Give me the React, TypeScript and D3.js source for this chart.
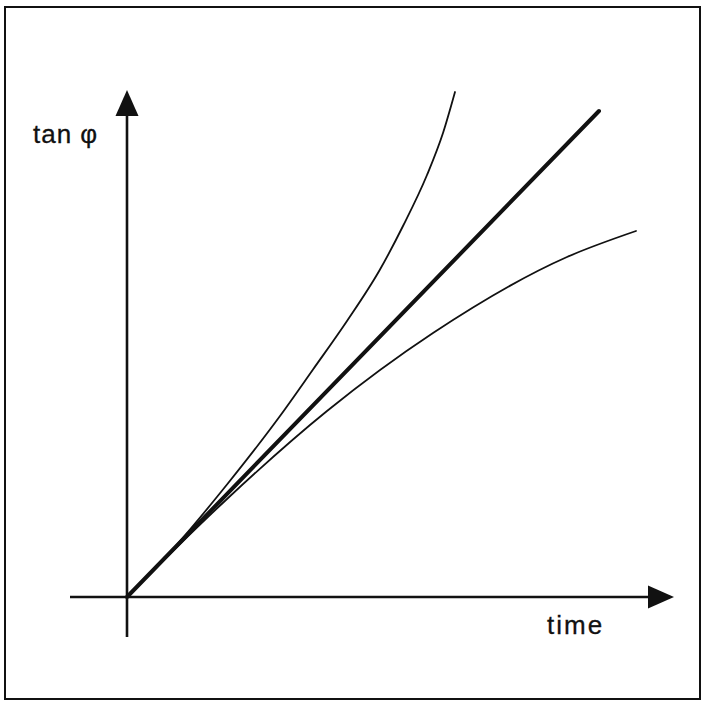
import * as d3 from "d3";

// curves in abstract units (1 unit = 50px), origin at the axes crossing
const upperX = [0, 1, 2, 3.06, 3.72, 4.4, 5.06, 5.52, 6.0, 6.32, 6.56];
const upperY = [0, 1.05, 2.25, 3.62, 4.55, 5.52, 6.55, 7.42, 8.44, 9.28, 10.1];

const linearX = [0, 9.44];
const linearY = [0, 9.72];

const lowerX = [0, 1, 2, 4, 6.12, 8.8, 10.18];
const lowerY = [0, 1.0, 1.96, 3.72, 5.28, 6.8, 7.32];

// axis extents
const xAxisExtent = [-1.14, 10.94];
const yAxisExtent = [-0.8, 10.14];

const xLabel = "time";
const yLabel = "tan φ";

const W = 705;
const H = 702;

export default function App() {
  const x = d3.scaleLinear().domain([0, 10]).range([127, 627]);
  const y = d3.scaleLinear().domain([0, 10]).range([597, 97]);

  const line = d3
    .line<[number, number]>()
    .x((d) => x(d[0]))
    .y((d) => y(d[1]))
    .curve(d3.curveMonotoneX);

  const zip = (xs: number[], ys: number[]) =>
    xs.map((v, i) => [v, ys[i]] as [number, number]);

  const ah = 26; // arrow length
  const aw = 11.5; // arrow half width
  const xTip = x(xAxisExtent[1]);
  const yTip = y(yAxisExtent[1]);
  const x0 = x(0);
  const y0 = y(0);

  return (
    <svg
      width={W}
      height={H}
      style={{ position: "absolute", left: 0, top: 0, background: "#fff" }}
    >
      {/* frame */}
      <rect x={5} y={7} width={695} height={692} fill="none" stroke="#111" strokeWidth={2} />

      {/* axes */}
      <line x1={x(xAxisExtent[0])} x2={xTip - ah + 2} y1={y0} y2={y0} stroke="#111" strokeWidth={2.6} />
      <line x1={x0} x2={x0} y1={y(yAxisExtent[0])} y2={yTip + ah - 2} stroke="#111" strokeWidth={2.6} />
      <path d={`M${xTip},${y0}L${xTip - ah},${y0 - aw}L${xTip - ah},${y0 + aw}Z`} fill="#111" />
      <path d={`M${x0},${yTip}L${x0 - aw},${yTip + ah}L${x0 + aw},${yTip + ah}Z`} fill="#111" />

      {/* curves */}
      <path d={line(zip(upperX, upperY))!} fill="none" stroke="#111" strokeWidth={1.8} strokeLinecap="round" />
      <path d={line(zip(linearX, linearY))!} fill="none" stroke="#111" strokeWidth={4} strokeLinecap="round" />
      <path d={line(zip(lowerX, lowerY))!} fill="none" stroke="#111" strokeWidth={1.8} strokeLinecap="round" />

      {/* labels */}
      <text
        x={547}
        y={634}
        fontFamily="Liberation Sans, Arial, sans-serif"
        fontSize={26}
        letterSpacing={2}
        fill="#111"
        stroke="#111"
        strokeWidth={0.3}
      >
        {xLabel}
      </text>
      <text
        x={33}
        y={143}
        fontFamily="Liberation Sans, Arial, sans-serif"
        fontSize={26}
        letterSpacing={1}
        fill="#111"
        stroke="#111"
        strokeWidth={0.3}
      >
        {yLabel}
      </text>
    </svg>
  );
}
